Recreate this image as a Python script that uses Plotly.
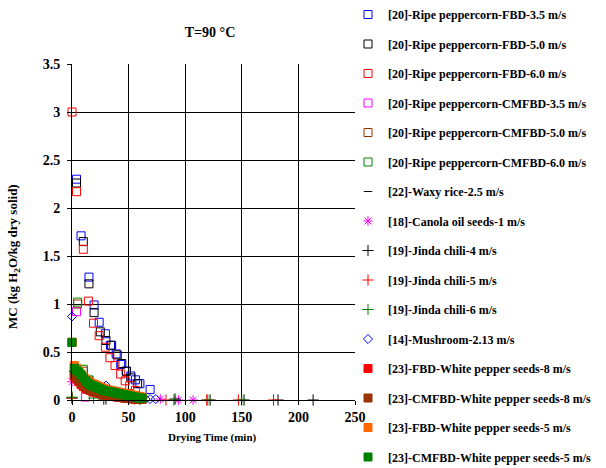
import plotly.graph_objects as go

# ---------------- data ----------------
fbd35_x = [4, 8, 15, 19.5, 24, 29.5, 34, 39, 43, 48, 52, 56, 60, 69]
fbd35_y = [2.30, 1.71, 1.28, 0.99, 0.81, 0.69, 0.57, 0.48, 0.37, 0.30, 0.25, 0.21, 0.17, 0.11]

fbd50_x = [4, 10, 15, 19.5, 25, 30, 35, 40, 44, 48, 52, 58]
fbd50_y = [2.26, 1.65, 1.21, 0.91, 0.71, 0.62, 0.57, 0.47, 0.38, 0.30, 0.23, 0.17]

fbd60_x = [0, 4, 10, 14.5, 19, 24, 29.5, 33.5, 38, 43, 47, 51, 56]
fbd60_y = [3.00, 2.17, 1.57, 1.03, 0.80, 0.67, 0.55, 0.44, 0.36, 0.27, 0.20, 0.15, 0.10]

cm35_x = [4, 8, 12]
cm35_y = [0.92, 0.25, 0.03]

cm50_x = [5, 10, 15, 20, 25, 30, 35, 40, 45, 50, 55, 60]
cm50_y = [1.00, 0.30, 0.20, 0.15, 0.12, 0.10, 0.08, 0.06, 0.05, 0.04, 0.03, 0.02]

cm60_x = [5, 10, 15, 20, 25, 30, 35, 40, 45, 50, 55, 60]
cm60_y = [1.02, 0.32, 0.21, 0.16, 0.13, 0.11, 0.09, 0.07, 0.06, 0.05, 0.04, 0.03]

waxy_x = [1, 2, 3, 4, 5, 6, 8, 10, 15, 20, 25, 30, 35, 40, 45]
waxy_y = [0.30, 0.27, 0.24, 0.21, 0.19, 0.17, 0.14, 0.12, 0.09, 0.07, 0.05, 0.04, 0.03, 0.02, 0.02]

canola_x = [0, 78, 94, 107]
canola_y = [0.19, 0.01, 0.00, 0.00]

jinda4_x = [0, 30, 60, 91, 122, 152, 182, 213]
jinda4_y = [0.02, 0.01, 0.01, 0.01, 0.00, 0.00, 0.00, 0.00]

jinda5_x = [0, 28, 55, 83, 119, 147, 178]
jinda5_y = [0.02, 0.01, 0.01, 0.00, 0.00, 0.00, 0.00]

jinda6_x = [0, 19, 28, 60, 90, 120, 150]
jinda6_y = [0.03, 0.02, 0.01, 0.01, 0.00, 0.00, 0.00]

mush_x = [0, 30, 65, 69, 74]
mush_y = [0.87, 0.15, 0.01, 0.01, 0.01]

wp_x = [0, 2, 4, 6, 8, 10, 12, 14, 16, 18, 20, 22, 24, 26, 28, 30,
        32, 34, 36, 38, 40, 42, 44, 46, 48, 50, 52, 54, 56, 58, 60, 62]
fbd_w8_y = [0.60, 0.25, 0.22, 0.19, 0.16, 0.14, 0.12, 0.11, 0.10, 0.09, 0.08, 0.075,
            0.07, 0.065, 0.06, 0.055, 0.05, 0.045, 0.04, 0.035, 0.03, 0.03, 0.025, 0.02,
            0.02, 0.015, 0.015, 0.01, 0.01, 0.01, 0.01, 0.01]
cm_w8_y = [0.60, 0.27, 0.24, 0.21, 0.18, 0.16, 0.14, 0.12, 0.11, 0.10, 0.09, 0.08,
           0.075, 0.07, 0.065, 0.06, 0.055, 0.05, 0.045, 0.04, 0.035, 0.03, 0.03, 0.025,
           0.02, 0.02, 0.015, 0.015, 0.01, 0.01, 0.01, 0.01]
fbd_w5_y = [0.60, 0.36, 0.33, 0.30, 0.27, 0.24, 0.22, 0.20, 0.18, 0.17, 0.16, 0.15,
            0.14, 0.13, 0.12, 0.11, 0.105, 0.10, 0.095, 0.09, 0.085, 0.08, 0.075, 0.07,
            0.065, 0.06, 0.055, 0.05, 0.045, 0.04, 0.035, 0.03]
cm_w5_y = [0.60, 0.33, 0.31, 0.29, 0.26, 0.23, 0.20, 0.18, 0.16, 0.15, 0.14, 0.13,
           0.12, 0.11, 0.10, 0.095, 0.09, 0.085, 0.08, 0.075, 0.07, 0.065, 0.06, 0.055,
           0.05, 0.045, 0.04, 0.035, 0.03, 0.025, 0.02, 0.02]

x_ticks = [0, 50, 100, 150, 200, 250]
y_ticks = [0, 0.5, 1, 1.5, 2, 2.5, 3, 3.5]
y_tick_text = ["0", "0.5", "1", "1.5", "2", "2.5", "3", "3.5"]

series = [
    ("[20]-Ripe peppercorn-FBD-3.5 m/s", fbd35_x, fbd35_y, "square-open", "#0000FF", 8),
    ("[20]-Ripe peppercorn-FBD-5.0 m/s", fbd50_x, fbd50_y, "square-open", "#000000", 8),
    ("[20]-Ripe peppercorn-FBD-6.0 m/s", fbd60_x, fbd60_y, "square-open", "#FF0000", 8),
    ("[20]-Ripe peppercorn-CMFBD-3.5 m/s", cm35_x, cm35_y, "square-open", "#FF00FF", 8),
    ("[20]-Ripe peppercorn-CMFBD-5.0 m/s", cm50_x, cm50_y, "square-open", "#993300", 8),
    ("[20]-Ripe peppercorn-CMFBD-6.0 m/s", cm60_x, cm60_y, "square-open", "#008000", 8),
    ("[22]-Waxy rice-2.5 m/s", waxy_x, waxy_y, "line-ew-open", "#000000", 6),
    ("[18]-Canola oil seeds-1 m/s", canola_x, canola_y, "asterisk-open", "#FF00FF", 8),
    ("[19]-Jinda chili-4 m/s", jinda4_x, jinda4_y, "cross-thin-open", "#000000", 8),
    ("[19]-Jinda chili-5 m/s", jinda5_x, jinda5_y, "cross-thin-open", "#FF0000", 8),
    ("[19]-Jinda chili-6 m/s", jinda6_x, jinda6_y, "cross-thin-open", "#008000", 8),
    ("[14]-Mushroom-2.13 m/s", mush_x, mush_y, "diamond-open", "#0000FF", 7),
    ("[23]-FBD-White pepper seeds-8 m/s", wp_x, fbd_w8_y, "square", "#FF0000", 8),
    ("[23]-CMFBD-White pepper seeds-8 m/s", wp_x, cm_w8_y, "square", "#993300", 8),
    ("[23]-FBD-White pepper seeds-5 m/s", wp_x, fbd_w5_y, "square", "#FF6600", 8),
    ("[23]-CMFBD-White pepper seeds-5 m/s", wp_x, cm_w5_y, "square", "#008000", 8),
]

fig = go.Figure()
for i, (name, xs, ys, sym, col, sz) in enumerate(series):
    fig.add_trace(go.Scatter(
        x=xs, y=ys, mode="markers", name="<b>" + name + "</b>",
        legendgroup="g%d" % i,
        legend="legend" if i < 8 else "legend2",
        cliponaxis=False,
        marker=dict(symbol=sym, color=col, size=sz,
                    line=dict(color=col, width=1)),
    ))

font_family = "Liberation Serif, Times New Roman, serif"
leg_common = dict(xref="container", yref="container", xanchor="left", yanchor="top",
                  font=dict(size=12, family=font_family), tracegroupgap=10.5,
                  maxheight=320, bgcolor="rgba(0,0,0,0)")

fig.update_layout(
    width=606, height=468,
    margin=dict(l=72, r=251, t=64, b=68, autoexpand=False),
    paper_bgcolor="white", plot_bgcolor="white",
    font=dict(family=font_family, color="black", size=12),
    title=dict(text="<b>T=90 °C</b>", x=210 / 606, xanchor="center",
               y=1 - 32 / 468, yanchor="middle", font=dict(size=14)),
    showlegend=True,
    legend=dict(x=348 / 606, y=1.0, **leg_common),
    legend2=dict(x=348 / 606, y=1.0 - 8 * 29.5 / 468, **leg_common),
    xaxis=dict(range=[0, 250], tickvals=x_ticks,
               ticktext=["<b>%d</b>" % t for t in x_ticks],
               showgrid=True, gridcolor="black", gridwidth=1, showline=True,
               linecolor="black", linewidth=1, ticks="outside", ticklen=4,
               tickcolor="black", zeroline=False, tickfont=dict(size=14)),
    yaxis=dict(range=[0, 3.5], tickvals=y_ticks,
               ticktext=["<b>%s</b>" % t for t in y_tick_text],
               showgrid=True, gridcolor="black", gridwidth=1, showline=True,
               linecolor="black", linewidth=1, ticks="outside", ticklen=4,
               tickcolor="black", zeroline=False, tickfont=dict(size=14),
               ticklabelstandoff=4),
    annotations=[
        dict(text="<b>Drying Time (min)</b>", xref="paper", yref="paper",
             x=(212 - 72) / 283, y=-(437 - 400) / 336, xanchor="center",
             yanchor="middle", showarrow=False, font=dict(size=11)),
        dict(text="<b>MC (kg H<sub>2</sub>O/kg dry solid)</b>", xref="paper",
             yref="paper", x=-(72 - 13) / 283, y=(400 - 257) / 336,
             xanchor="center", yanchor="middle", textangle=-90,
             showarrow=False, font=dict(size=13)),
    ],
)

fig.write_html("out.html", config={"displayModeBar": False},
               post_script="document.body.style.margin='0';")
